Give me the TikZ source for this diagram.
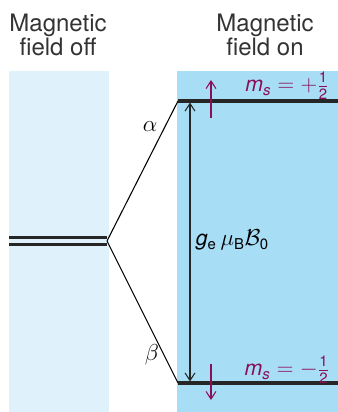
\documentclass[tikz,border=0pt]{standalone}
\usepackage{fontspec}
\setmainfont{TeX Gyre Heros}
\usepackage{amsmath}
\usetikzlibrary{arrows.meta}
\definecolor{offblue}{HTML}{DFF2FC}
\definecolor{onblue}{HTML}{A8DDF6}
\definecolor{spinpurple}{HTML}{8A0F58}
\begin{document}
\begin{tikzpicture}[x=0.75pt,y=-0.75pt,line width=0.8pt,>={Straight Barb[length=2mm,width=2.6mm]}]
  \useasboundingbox (0,0) rectangle (338,412);
  % paneles de fondo
  \fill[offblue] (9,71) rectangle (109,412);
  \fill[onblue] (177,71) rectangle (338,412);
  % titulos
  \node[align=center,text=black!80,font=\fontsize{18}{17.5}\selectfont] (off) at (58,35) {Magnetic\\field off};
  \node[align=center,text=black!80,font=\fontsize{18}{17.5}\selectfont] (on) at (265,35) {Magnetic\\field on};
  % nivel degenerado y desdoblamiento
  \coordinate (split) at (107,241);
  \coordinate (up) at (178,101);
  \coordinate (dn) at (178,383);
  \draw[line width=1.6pt,black!85] (9,237.5)--(107,237.5) (9,244.5)--(107,244.5);
  \draw (split)--(up) (split)--(dn);
  \draw[line width=2.4pt,black!85] (up)--(338,101);
  \draw[line width=2.4pt,black!85] (dn)--(338,383);
  \node[font=\fontsize{17}{17}\selectfont] (a) at (150,127) {$\alpha$};
  \node[font=\fontsize{17}{17}\selectfont] (b) at (152,355) {$\beta$};
  % separacion de energia
  \coordinate (gt) at (190,102.5);
  \coordinate (gb) at (190,381.5);
  \draw[<->,black!85] (gt)--(gb);
  \node[anchor=west,inner sep=1pt,font=\fontsize{16}{16}\selectfont] (gap) at (194,240) {\textit{g}$_{\text{e}}\,\mu_{\text{B}}\mathcal{B}_{\text{0}}$};
  % espines
  \draw[->,spinpurple] (211,118)--(211,80);
  \draw[->,spinpurple] (211,364)--(211,400);
  \node[text=spinpurple,font=\fontsize{16}{16}\selectfont] (ma) at (287,86) {\textit{m}$_{\textit{s}}=+\tfrac{\text{1}}{\text{2}}$};
  \node[text=spinpurple,font=\fontsize{16}{16}\selectfont] (mb) at (287,370) {\textit{m}$_{\textit{s}}=-\tfrac{\text{1}}{\text{2}}$};
\end{tikzpicture}
\end{document}
